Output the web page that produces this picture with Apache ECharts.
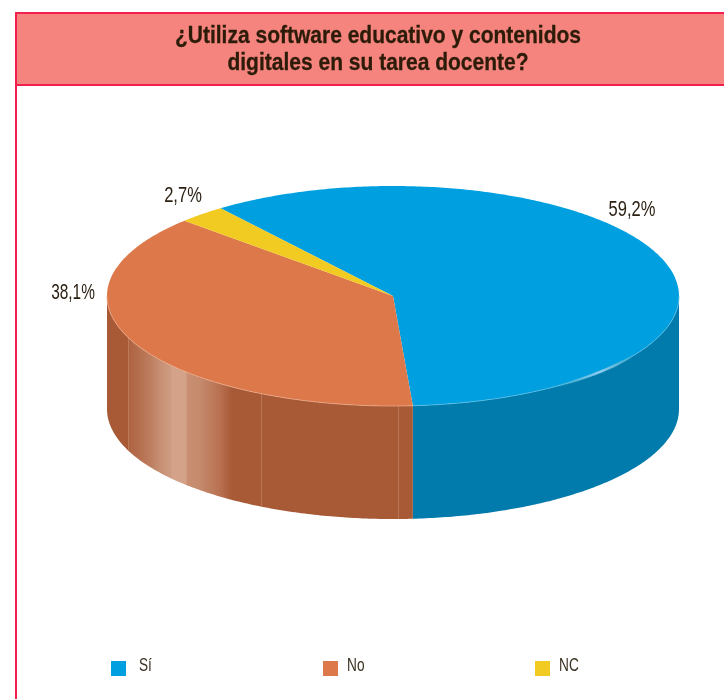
<!DOCTYPE html>
<html><head><meta charset="utf-8">
<style>html,body{margin:0;padding:0;background:#fff}#c{width:724px;height:699px}</style>
<script src="https://cdn.jsdelivr.net/npm/echarts@6/dist/echarts.min.js"></script>
</head><body><div id="c"></div>
<script>
const titleLines = ['¿Utiliza software educativo y contenidos', 'digitales en su tarea docente?'];
const categories = ['Sí', 'No', 'NC'];
const values = [59.2, 38.1, 2.7];
const valueLabels = ['59,2%', '38,1%', '2,7%'];
const topColors = ['#00A0E0', '#DD784A', '#F2CB22'];
const sideColors = ['#007BAC', '#A85A36', '#B8941A'];

const font = '"Liberation Sans",sans-serif';
const CX = 393, CY = 296, RX = 286, RY = 110, DEPTH = 113, START = -37.1;
const LABEL_POS = [[632, 210], [73, 293], [183, 196]];
const LEGEND_X = [111, 323, 535];
const LEGEND_TEXT_X = [139, 347, 559];

const total = values.reduce((a, b) => a + b, 0);
const pt = (t, dy) => {
  const r = t * Math.PI / 180;
  return [CX + RX * Math.sin(r), CY - RY * Math.cos(r) + (dy || 0)];
};
const arc = (a, b, dy) => {
  const out = [], n = Math.max(2, Math.ceil(Math.abs(b - a) * 1.5));
  for (let k = 0; k <= n; k++) out.push(pt(a + (b - a) * k / n, dy));
  return out;
};
const sliceSpan = i => {
  let a = START;
  for (let k = 0; k < i; k++) a += values[k] / total * 360;
  return [a, a + values[i] / total * 360];
};

function orangeWallFill() {
  const x0 = 107, x1 = 412, f = x => (x - x0) / (x1 - x0), base = '#A85A36';
  const band = [[128, '#A85A36'], [129, '#AE6442'], [140, '#B5704F'], [146, '#BA7859'], [152, '#BE8062'],
    [158, '#C58C70'], [165, '#CB967B'], [171, '#CE9C82'], [172, '#D3A288'], [186, '#D3A288'],
    [187, '#C98F72'], [198, '#C68B6D'], [208, '#C08062'], [220, '#B87050'], [232, '#A85A36']];
  const stops = [{offset: 0, color: base}];
  band.forEach(([x, c]) => stops.push({offset: f(x), color: c}));
  stops.push({offset: 1, color: base});
  return new echarts.graphic.LinearGradient(x0, 0, x1, 0, stops, true);
}

function renderSlice(i) {
  return function () {
    const [a, b] = sliceSpan(i);
    const children = [];
    const wa = Math.max(a, 90), wb = Math.min(b, 270);
    if (wb > wa) {
      const top = arc(wa, wb, 0), bottom = arc(wb, wa, DEPTH);
      children.push({
        type: 'polygon', z2: 1,
        shape: {points: top.concat(bottom)},
        style: {fill: i === 1 ? orangeWallFill() : sideColors[i], stroke: null}
      });
    }
    if (i === 1) {
      [128, 261, 398].forEach(x => {
        const sin = (x - CX) / RX, cos = Math.sqrt(1 - sin * sin), yTop = CY + RY * cos;
        children.push({
          type: 'line', z2: 2,
          shape: {x1: x + .5, y1: yTop, x2: x + .5, y2: yTop + DEPTH},
          style: {stroke: '#C98F72', lineWidth: 1, opacity: .55}
        });
      });
    }
    const outer = arc(a, b, 0);
    children.push({
      type: 'polygon', z2: 3,
      shape: {points: [[CX, CY]].concat(outer)},
      style: {fill: topColors[i], stroke: null}
    });
    if (i === 0) {
      children.push({
        type: 'polyline', z2: 4, shape: {points: arc(90, b, 0)},
        style: {fill: null, stroke: '#5FBEE6', lineWidth: 1, opacity: .8}
      });
      children.push({
        type: 'polyline', z2: 5, shape: {points: arc(122, 146, 0)},
        style: {
          fill: null, lineWidth: 2.6,
          stroke: new echarts.graphic.LinearGradient(555, 0, 635, 0, [
            {offset: 0, color: 'rgba(90,190,210,0)'},
            {offset: .55, color: '#8CCBEE'},
            {offset: .7, color: '#70BEDD'},
            {offset: 1, color: 'rgba(90,190,210,0)'}], true)
        }
      });
    }
    if (i === 1) {
      children.push({
        type: 'polyline', z2: 4, shape: {points: arc(a, 270, 0)},
        style: {fill: null, stroke: '#EBA988', lineWidth: 1, opacity: .8}
      });
    }
    const p = LABEL_POS[i];
    children.push({
      type: 'text', z2: 6, x: p[0], y: p[1], scaleX: i === 1 ? .7 : .75,
      style: {text: valueLabels[i], font: '22px ' + font, fill: '#2B2013', align: 'center', verticalAlign: 'middle'}
    });
    children.push({
      type: 'text', z2: 6, x: LEGEND_TEXT_X[i], y: 666, scaleX: .72,
      style: {text: categories[i], font: '19px ' + font, fill: '#3A3020', align: 'left', verticalAlign: 'middle'}
    });
    return {type: 'group', children};
  };
}

const chart = echarts.init(document.getElementById('c'), null, {renderer: 'canvas'});
chart.setOption({
  animation: false,
  backgroundColor: '#fff',
  legend: categories.map((c, i) => ({
    data: [c], left: LEGEND_X[i], top: 661, padding: 0, itemWidth: 15, itemHeight: 15, itemGap: 0,
    icon: 'rect', selectedMode: false, formatter: () => ' ',
    textStyle: {fontSize: 1, padding: 0}
  })),
  graphic: [
    {type: 'rect', z: -10, shape: {x: 16, y: 13, width: 720, height: 72},
      style: {fill: '#F6847E', stroke: '#F2204F', lineWidth: 2}},
    {type: 'line', z: -9, shape: {x1: 16, y1: 13, x2: 16, y2: 699},
      style: {stroke: '#F2204F', lineWidth: 2}},
    ...titleLines.map((t, k) => ({
      type: 'text', z: 10, x: 378, y: 36 + k * 27, scaleX: .875,
      style: {text: t, font: 'bold 24px ' + font, fill: '#2B1B08', align: 'center', verticalAlign: 'middle',
        stroke: '#2B1B08', lineWidth: .3}
    }))
  ],
  series: categories.map((c, i) => ({
    type: 'custom', name: c, coordinateSystem: 'none',
    silent: true, z: 2, data: [values[i]],
    itemStyle: {color: topColors[i]},
    renderItem: renderSlice(i)
  }))
});
</script></body></html>
